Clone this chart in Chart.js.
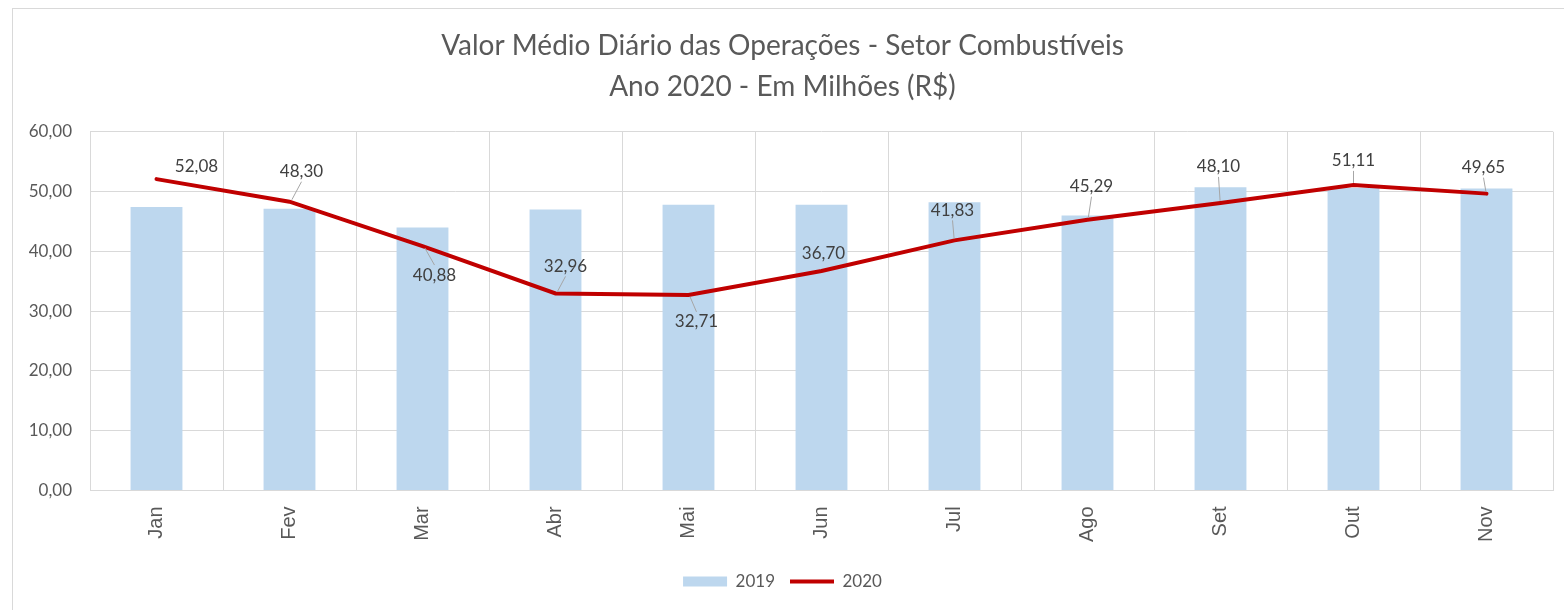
<html>
<head>
<meta charset="utf-8">
<script src="https://cdn.jsdelivr.net/npm/chart.js@4.4.1/dist/chart.umd.min.js"></script>
<style>
  body { margin: 0; background: #ffffff; }
  #frame { position: absolute; left: 12px; top: 8px; width: 1600px; height: 700px; border: 1px solid #d9d9d9; }
  #wrap { position: absolute; left: 0; top: 0; width: 1564px; height: 610px; }
</style>
</head>
<body>
<div id="frame"></div>
<div id="wrap"><canvas id="chart"></canvas></div>
<script>
    // dados
    const months = ['Jan', 'Fev', 'Mar', 'Abr', 'Mai', 'Jun', 'Jul', 'Ago', 'Set', 'Out', 'Nov'];
    const values2019 = [47.4, 47.1, 44.0, 47.0, 47.8, 47.8, 48.2, 46.0, 50.7, 50.6, 50.5];
    const values2020 = [52.08, 48.30, 40.88, 32.96, 32.71, 36.70, 41.83, 45.29, 48.10, 51.11, 49.65];
    const titleLines = ['Valor Médio Diário das Operações - Setor Combustíveis', 'Ano 2020 - Em Milhões (R$)'];

    // deslocamento dos rotulos em relacao ao ponto (estilo)
    const labelOffsets = [[40, -13], [12, -30], [12, 29], [10, -27], [8, 27], [2, -18],
                          [-2, -30], [4, -33], [-2, -36], [0, -24], [-3, -26]];

    function fmt(v) { return v.toFixed(2).replace('.', ','); }

    const lineLabels = {
        id: 'lineLabels',
        afterDatasetsDraw(chart) {
            const meta = chart.getDatasetMeta(1);
            const ctx = chart.ctx;
            ctx.save();
            ctx.font = '17px Lato';
            ctx.textAlign = 'center';
            ctx.textBaseline = 'middle';
            meta.data.forEach((pt, i) => {
                const off = labelOffsets[i];
                const lx = pt.x + off[0], ly = pt.y + off[1];
                if (Math.abs(off[1]) >= 24) {
                    const dir = off[1] < 0 ? 1 : -1;
                    ctx.strokeStyle = '#a6a6a6';
                    ctx.lineWidth = 1;
                    ctx.beginPath();
                    ctx.moveTo(lx, ly + dir * 10);
                    ctx.lineTo(pt.x + off[0] * 0.2, pt.y - dir * 2);
                    ctx.stroke();
                }
                ctx.fillStyle = '#404040';
                ctx.fillText(fmt(values2020[i]), lx, ly);
            });
            ctx.restore();
        }
    };

    new Chart(document.getElementById('chart'), {
        data: {
            labels: months,
            datasets: [
                {
                    type: 'bar', label: '2019', data: values2019,
                    backgroundColor: '#bdd7ee', borderWidth: 0,
                    barPercentage: 0.39, categoryPercentage: 1, order: 2
                },
                {
                    type: 'line', label: '2020', data: values2020,
                    borderColor: '#c00000', backgroundColor: '#c00000', borderWidth: 4,
                    pointRadius: 0, tension: 0, borderCapStyle: 'round', order: 1
                }
            ]
        },
        options: {
            responsive: true,
            maintainAspectRatio: false,
            animation: false,
            layout: { padding: { left: 12, right: 11, bottom: 10 } },
            plugins: {
                title: {
                    display: true, text: titleLines, color: '#595959',
                    font: { family: 'Lato', size: 28, weight: 'normal', lineHeight: 1.46 },
                    padding: { top: 26, bottom: 24 }
                },
                legend: {
                    position: 'bottom',
                    labels: {
                        usePointStyle: true, pointStyleWidth: 44, boxHeight: 10,
                        color: '#595959', font: { family: 'Lato', size: 17 }, padding: 15,
                        generateLabels: chart => chart.data.datasets.map((ds, i) => ({
                            text: ds.label, datasetIndex: i, hidden: false,
                            fillStyle: ds.type === 'line' ? ds.borderColor : ds.backgroundColor,
                            strokeStyle: ds.type === 'line' ? ds.borderColor : ds.backgroundColor,
                            lineWidth: ds.type === 'line' ? 4 : 0,
                            pointStyle: ds.type === 'line' ? 'line' : 'rect',
                            fontColor: '#595959'
                        }))
                    }
                },
                tooltip: { enabled: false }
            },
            scales: {
                x: {
                    grid: { color: '#d9d9d9', drawTicks: false },
                    border: { color: '#d9d9d9' },
                    ticks: { color: '#595959', font: { family: 'Liberation Sans', size: 20 },
                             minRotation: 90, maxRotation: 90, padding: 16 }
                },
                y: {
                    min: 0, max: 60,
                    grid: { color: '#d9d9d9', drawTicks: false },
                    border: { display: false },
                    ticks: { stepSize: 10, color: '#595959', font: { family: 'Lato', size: 17 },
                             padding: 18, callback: v => fmt(v) },
                    afterFit: s => { s.width = 78; }
                }
            }
        },
        plugins: [lineLabels]
    });
</script>
</body>
</html>
